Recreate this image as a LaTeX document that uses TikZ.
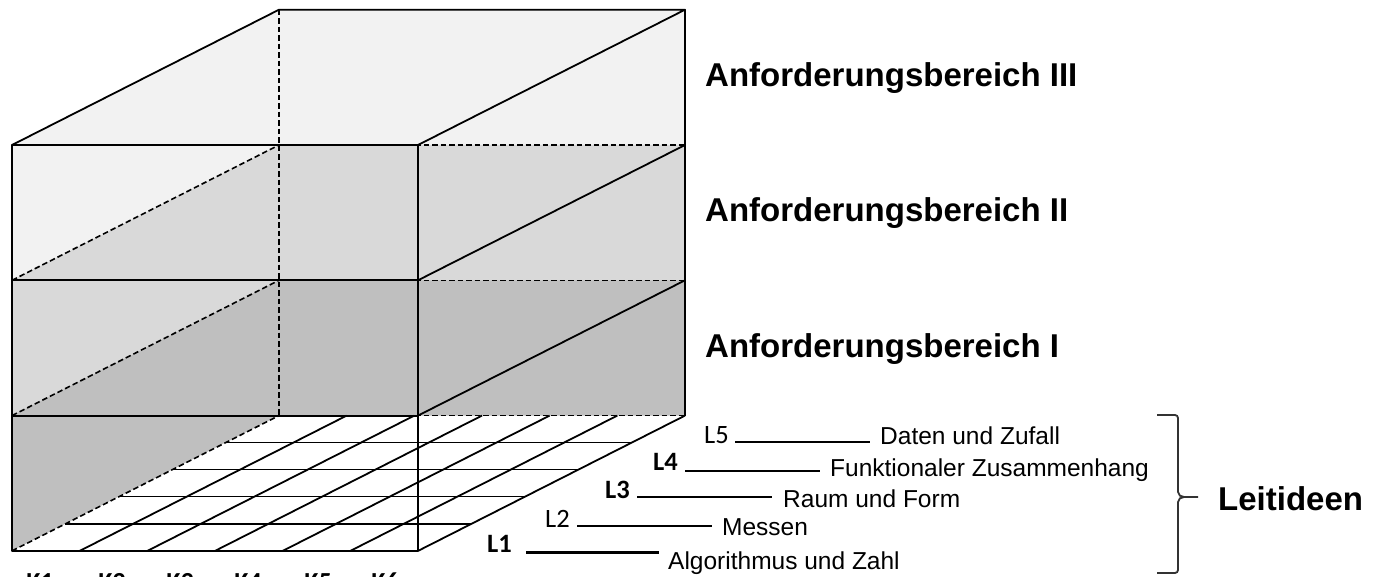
\documentclass[tikz,border=0pt]{standalone}
\usepackage{fontspec}
\setmainfont{Liberation Sans}
\newfontfamily\calfont{Carlito}
\usetikzlibrary{calc}
\definecolor{layerthree}{HTML}{F2F2F2}
\definecolor{layertwo}{HTML}{D9D9D9}
\definecolor{layerone}{HTML}{BFBFBF}
\begin{document}
\begin{tikzpicture}[x=1pt,y=-1pt,
  edge/.style={line width=1.8pt, black, line join=round},
  hidden/.style={line width=1.6pt, black, dash pattern=on 5.5pt off 3pt},
  gridline/.style={line width=1.8pt, black},
  gridcross/.style={line width=1.4pt, black},
  big/.style={font=\fontsize{33}{40}\selectfont\bfseries, inner sep=0pt, anchor=base west},
  idea/.style={font=\fontsize{24.5}{30}\selectfont, inner sep=0pt, anchor=base west},
  tag/.style={font=\calfont\fontsize{26.5}{30}\selectfont, inner sep=0pt, anchor=base west},
  tagb/.style={font=\calfont\bfseries\fontsize{26.5}{30}\selectfont, inner sep=0pt, anchor=base west},
  ktag/.style={font=\calfont\bfseries\fontsize{26}{30}\selectfont, inner sep=0pt, anchor=base},
  leader/.style={line width=1.4pt, black},
  brace/.style={line width=1.8pt, black!80}]
\useasboundingbox (0,0) rectangle (1375,577);

% corner points of the box, level 0 = top, level 3 = floor
\foreach \i/\yf/\yb in {0/145/9.7, 1/280.3/145, 2/415.6/280.3, 3/550.9/415.6} {
  \coordinate (fl\i) at (12,\yf);
  \coordinate (fr\i) at (418,\yf);
  \coordinate (bl\i) at (279,\yb);
  \coordinate (br\i) at (685,\yb);
}

% the three layers, lightest on top
\fill[layerthree] (fl0) -- (bl0) -- (br0) -- (br1) -- (fr1) -- (fl1) -- cycle;
\fill[layertwo]   (fl1) -- (bl1) -- (br1) -- (br2) -- (fr2) -- (fl2) -- cycle;
\fill[layerone]   (fl2) -- (bl2) -- (br2) -- (br3) -- (fr3) -- (fl3) -- cycle;
\fill[white]      (fl3) -- (fr3) -- (br3) -- (bl3) -- cycle;

% floor grid: 6 columns along the front, 5 rows in depth
\foreach \j in {1,...,5}
  \draw[gridline] ($(fl3)!\j/6!(fr3)$) -- ($(bl3)!\j/6!(br3)$);
\foreach \i in {1,...,4}
  \draw[gridcross] ($(fl3)!\i/5!(bl3)$) -- ($(fr3)!\i/5!(br3)$);

% hidden edges
\draw[hidden] (bl0) -- (bl3);
\foreach \k in {1,2,3} {
  \draw[hidden] (fl\k) -- (bl\k);
  \draw[hidden] (bl\k) -- (br\k);
}

% visible edges
\draw[edge] (fl0) -- (bl0) -- (br0) -- (fr0);
\draw[edge] (br0) -- (br3);
\draw[edge] (fl0) rectangle (fr3);
\draw[edge] (fl1) -- (fr1);
\draw[edge] (fl2) -- (fr2);
\foreach \k in {1,2,3}
  \draw[edge] (fr\k) -- (br\k);

% layer names
\node[big] (ab3) at (705,87)  {Anforderungsbereich III};
\node[big] (ab2) at (705,222) {Anforderungsbereich II};
\node[big] (ab1) at (705,357) {Anforderungsbereich I};

% guiding ideas
\node[tag]  (l5) at (704,443) {L5};
\node[tagb] (l4) at (653,470) {L4};
\node[tagb] (l3) at (605,498) {L3};
\node[tag]  (l2) at (545,527) {L2};
\node[tagb] (l1) at (487,552) {L1};

\node[idea] (t5) at (880,444) {Daten und Zufall};
\node[idea] (t4) at (830,476) {Funktionaler Zusammenhang};
\node[idea] (t3) at (783,507) {Raum und Form};
\node[idea] (t2) at (722,535) {Messen};
\node[idea] (t1) at (668,569) {Algorithmus und Zahl};

\coordinate (s5) at (735,442); \coordinate (e5) at (870,442);
\coordinate (s4) at (685,471); \coordinate (e4) at (820,471);
\coordinate (s3) at (637,497); \coordinate (e3) at (772,497);
\coordinate (s2) at (577,526); \coordinate (e2) at (712,526);
\coordinate (s1) at (526,552); \coordinate (e1) at (659,552);
\draw[leader] (s5) -- (e5);
\draw[leader] (s4) -- (e4);
\draw[leader] (s3) -- (e3);
\draw[leader] (s2) -- (e2);
\draw[leader, line width=3pt] (s1) -- (e1);

% bracket gathering the guiding ideas
\coordinate (bt) at (1157,415);
\coordinate (bm) at (1198,497);
\coordinate (bb) at (1157,573);
\draw[brace] (bt) -- (1175,415) to[out=0,in=90] (1178,418) -- (1178,492)
  to[out=-90,in=180] (1184,497) -- (bm);
\draw[brace] (1184,497) to[out=180,in=90] (1178,502) -- (1178,570)
  to[out=-90,in=0] (1175,573) -- (bb);
\node[big] (leit) at (1218,510) {Leitideen};

% general competences along the front edge
\node[ktag] (k1) at (40,590)  {K1};
\node[ktag] (k2) at (112,590) {K2};
\node[ktag] (k3) at (180,590) {K3};
\node[ktag] (k4) at (248,590) {K4};
\node[ktag] (k5) at (318,590) {K5};
\node[ktag] (k6) at (385,590) {K6};
\end{tikzpicture}
\end{document}
